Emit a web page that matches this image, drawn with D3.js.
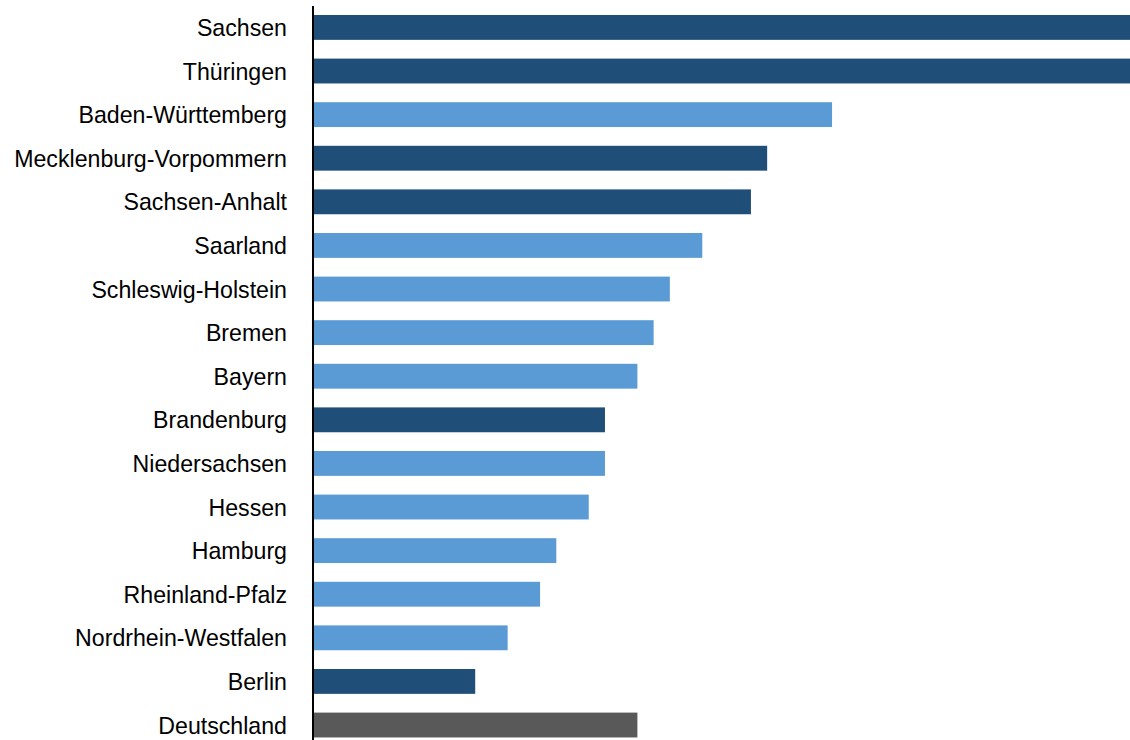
<!DOCTYPE html>
<html>
<head>
<meta charset="utf-8">
<script src="https://cdnjs.cloudflare.com/ajax/libs/d3/7.8.5/d3.min.js"></script>
<style>
  body { margin: 0; background: #fff; }
</style>
</head>
<body>
<div id="chart"></div>
<script>
var width = 1130;
var height = 740;

// data
var laender = ["Sachsen", "Thüringen", "Baden-Württemberg", "Mecklenburg-Vorpommern",
  "Sachsen-Anhalt", "Saarland", "Schleswig-Holstein", "Bremen", "Bayern", "Brandenburg",
  "Niedersachsen", "Hessen", "Hamburg", "Rheinland-Pfalz", "Nordrhein-Westfalen", "Berlin",
  "Deutschland"];
var werte = [52, 52, 32, 28, 27, 24, 22, 21, 20, 18, 18, 17, 15, 14, 12, 10, 20];
var gruppe = ["ost", "ost", "west", "ost", "ost", "west", "west", "west", "west", "ost",
  "west", "west", "west", "west", "west", "ost", "de"];

var farbe = { ost: "#1F4E79", west: "#5B9BD5", de: "#595959" };

var svg = d3.select("#chart").append("svg")
  .attr("width", width)
  .attr("height", height);

var x = d3.scaleLinear()
  .domain([0, 50.37])
  .range([313, 1130]);

var step = 43.6;
var y = d3.scaleBand()
  .domain(laender)
  .range([15 - 0.25 * step, 15 - 0.25 * step + step * (laender.length - 0.43 + 0.5)])
  .paddingInner(0.43)
  .paddingOuter(0.25);

svg.selectAll("rect.bar")
  .data(laender)
  .enter().append("rect")
  .attr("class", "bar")
  .attr("x", x(0))
  .attr("y", function (d) { return y(d); })
  .attr("width", function (d, i) { return x(werte[i]) - x(0); })
  .attr("height", y.bandwidth())
  .attr("fill", function (d, i) { return farbe[gruppe[i]]; });

// labels, slightly condensed like the original
svg.selectAll("text.label")
  .data(laender)
  .enter().append("text")
  .attr("class", "label")
  .attr("transform", function (d) {
    return "translate(287," + (y(d) + y.bandwidth() / 2) + ") scale(0.965,1)";
  })
  .attr("dy", "0.36em")
  .attr("text-anchor", "end")
  .style("font-family", "'Liberation Sans', Arial, sans-serif")
  .style("font-size", "24px")
  .style("fill", "#000")
  .text(function (d) { return d; });

// axis line
svg.append("line")
  .attr("x1", 313).attr("x2", 313)
  .attr("y1", 6).attr("y2", height)
  .attr("stroke", "#000")
  .attr("stroke-width", 2);
</script>
</body>
</html>
